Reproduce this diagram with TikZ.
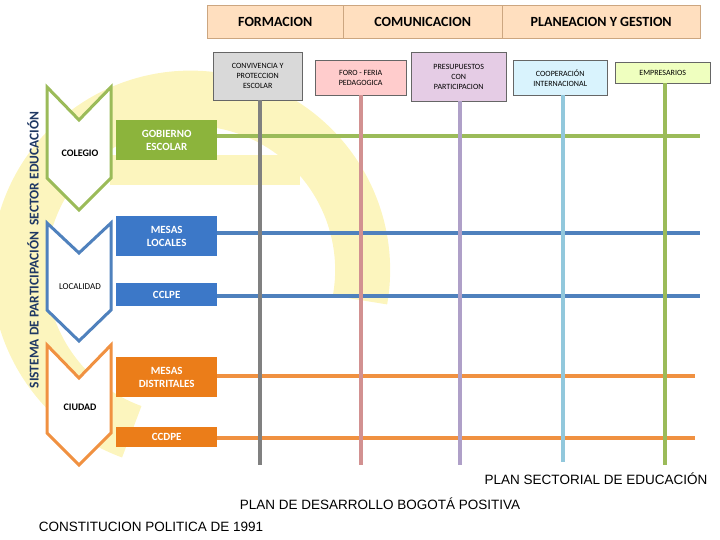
\documentclass[tikz,border=0pt]{standalone}
\usepackage{fontspec}
\setmainfont{Carlito}
\newfontfamily\arialf{Liberation Sans}
\definecolor{pale}{RGB}{252,245,190}
\definecolor{cgreen}{RGB}{155,187,89}
\definecolor{cblue}{RGB}{79,129,189}
\definecolor{corange}{RGB}{240,145,65}
\definecolor{sgreen}{RGB}{140,180,60}
\definecolor{sblue}{RGB}{60,120,200}
\definecolor{sorange}{RGB}{235,125,25}
\definecolor{vgray}{RGB}{128,128,128}
\definecolor{vpink}{RGB}{210,145,145}
\definecolor{vpurple}{RGB}{175,160,200}
\definecolor{vcyan}{RGB}{146,200,220}
\definecolor{titlec}{RGB}{31,56,100}
\begin{document}
\begin{tikzpicture}[x=1pt,y=-1pt,
  hdr/.style={draw=orange!60!black!50,fill=orange!25,minimum height=33pt,font=\bfseries\fontsize{14}{16}\selectfont,anchor=north west},
  topbox/.style={draw=black!60,align=center,font=\fontsize{8}{10}\selectfont,anchor=north west,inner sep=1pt},
  sidebox/.style={draw=none,align=center,text=white,font=\bfseries\fontsize{11}{13}\selectfont,minimum width=101pt,anchor=north west,inner sep=1pt},
  vline/.style={line width=4pt},
  hline/.style={line width=4pt},
  chev/.style={line width=3pt,fill=white},
  lbl/.style={font=\bfseries\fontsize{10}{12}\selectfont},
  btxt/.style={font=\arialf\fontsize{13.5}{15}\selectfont}]
\useasboundingbox (0,0) rectangle (720,540);
% background e
\draw[pale,line width=55pt] (360,300) arc[start angle=10,end angle=-250,radius=172];
\fill[pale] (110,155) rectangle (300,185);
% header
\node[hdr,minimum width=136pt] (h1) at (207,5) {FORMACION};
\node[hdr,minimum width=159pt] (h2) at (343,5) {COMUNICACION};
\node[hdr,minimum width=198pt] (h3) at (502,5) {PLANEACION Y GESTION};
% top boxes
\node[topbox,fill=black!15,minimum width=89pt,minimum height=48pt] (t1) at (213,52) {CONVIVENCIA Y\\PROTECCION\\ESCOLAR};
\node[topbox,fill=red!20,minimum width=91pt,minimum height=35pt] (t2) at (315,60) {FORO - FERIA\\PEDAGOGICA};
\node[topbox,fill=violet!20,minimum width=95pt,minimum height=49pt] (t3) at (411,52) {PRESUPUESTOS\\CON\\PARTICIPACION};
\node[topbox,fill=cyan!15,minimum width=94pt,minimum height=35pt] (t4) at (513,60) {COOPERACIÓN\\INTERNACIONAL};
\node[topbox,fill=lime!25,minimum width=95pt,minimum height=21pt] (t5) at (615,62) {EMPRESARIOS};
% chevrons
\draw[chev,draw=cgreen] (47,87)--(79,120)--(111,87)--(111,178)--(79,210)--(47,178)--cycle;
\draw[chev,draw=cblue] (47,223)--(79,253)--(111,223)--(111,310)--(79,341)--(47,310)--cycle;
\draw[chev,draw=corange] (47,345)--(79,378)--(111,345)--(111,433)--(79,465)--(47,433)--cycle;
\node[lbl] (c1) at (80,153) {COLEGIO};
\node[font=\fontsize{9}{11}\selectfont] (c2) at (80,287) {LOCALIDAD};
\node[lbl] (c3) at (80,407) {CIUDAD};
% side boxes
\node[sidebox,fill=sgreen,minimum height=40pt] (s1) at (116,120) {GOBIERNO\\ESCOLAR};
\node[sidebox,fill=sblue,minimum height=40pt] (s2) at (116,216) {MESAS\\LOCALES};
\node[sidebox,fill=sblue,minimum height=23pt] (s3) at (116,283) {CCLPE};
\node[sidebox,fill=sorange,minimum height=40pt] (s4) at (116,357) {MESAS\\DISTRITALES};
\node[sidebox,fill=sorange,minimum height=20pt] (s5) at (116,427) {CCDPE};
% end coordinates
\coordinate (e1) at (700,136);
\coordinate (e2) at (700,233);
\coordinate (e3) at (700,296);
\coordinate (e4) at (695,376);
\coordinate (e5) at (695,438);
% horizontal lines
\draw[hline,cgreen] (s1.east |- e1) -- (e1);
\draw[hline,cblue] (s2.east |- e2) -- (e2);
\draw[hline,cblue] (s3.east |- e3) -- (e3);
\draw[hline,corange] (s4.east |- e4) -- (e4);
\draw[hline,corange] (s5.east |- e5) -- (e5);
% vertical lines
\coordinate (b1) at (260,465);
\coordinate (b2) at (361,465);
\coordinate (b3) at (460,465);
\coordinate (b4) at (563,462);
\coordinate (b5) at (665,465);
\draw[vline,vgray] (b1 |- t1.south) -- (b1);
\draw[vline,vpink] (b2 |- t2.south) -- (b2);
\draw[vline,vpurple] (b3 |- t3.south) -- (b3);
\draw[vline,vcyan] (b4 |- t4.south) -- (b4);
\draw[vline,cgreen] (b5 |- t5.south) -- (b5);
% vertical title
\node[rotate=90,font=\bfseries\fontsize{13.5}{15}\selectfont,text=titlec] (vt) at (33,250) {SISTEMA DE PARTICIPACIÓN \ SECTOR EDUCACIÓN};
% bottom texts
\node[btxt] (p1) at (596,479) {PLAN SECTORIAL DE EDUCACIÓN};
\node[btxt] (p2) at (380,504) {PLAN DE DESARROLLO BOGOTÁ POSITIVA};
\node[btxt] (p3) at (151,527) {CONSTITUCION POLITICA DE 1991};
\end{tikzpicture}
\end{document}
